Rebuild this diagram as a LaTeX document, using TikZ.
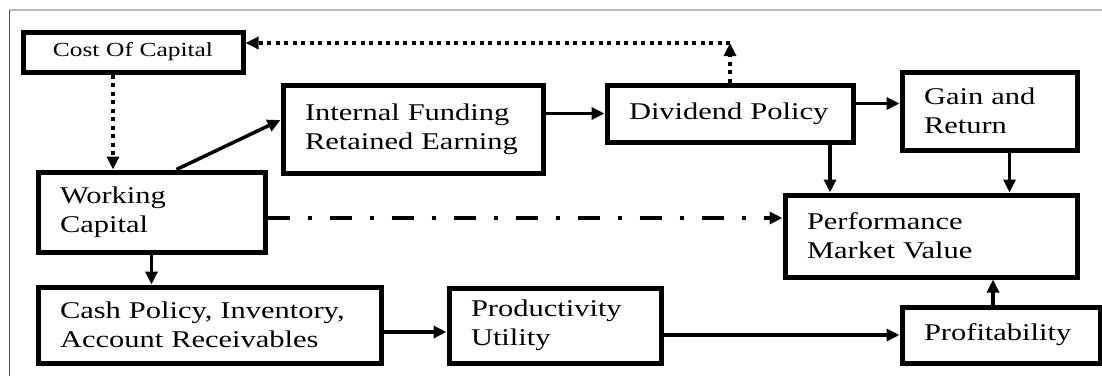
\documentclass[tikz,border=0pt]{standalone}
\usepackage{fontspec}
\setmainfont{Liberation Serif}[FakeStretch=1.27]
\usetikzlibrary{arrows.meta}
\begin{document}
\begin{tikzpicture}[x=1pt,y=-1pt,
  box/.style={draw, line width=5pt, inner xsep=22pt, inner ysep=0pt, align=left,
    font=\fontsize{24}{29}\selectfont},
  conn/.style={line width=3.5pt, -{Triangle[length=13pt,width=12pt]}},
  dots/.style={conn, line width=4pt, dash pattern=on 4pt off 4.5pt},
  dashdot/.style={conn, line width=4.5pt, dash pattern=on 22pt off 18pt on 4pt off 18pt},
  frame/.style={line width=2.5pt, gray!55}]
\useasboundingbox (0,0) rectangle (1102,376);
\draw[frame] (9,10) -- (1102,10);
\draw[line width=1pt, gray!70!black] (9,10) -- (9,376);

\node[box, minimum height=40pt, text width=176pt, align=center,
  font=\fontsize{20}{24}\selectfont] (coc) at (133,52) {Cost Of Capital};
\node[box, minimum height=88pt, text width=216pt] (if) at (413,129) {Internal Funding\\Retained Earning};
\node[box, minimum height=57pt, text width=202pt] (dp) at (730,113.5) {Dividend Policy};
\node[box, minimum height=78pt, text width=131pt] (gr) at (989.5,111) {Gain and\\Return};
\node[box, minimum height=80pt, text width=183pt] (wc) at (151.5,212) {Working\\Capital};
\node[box, minimum height=82pt, text width=248pt] (pmv) at (931,236) {Performance\\Market Value};
\node[box, minimum height=76pt, text width=299pt] (cash) at (209.5,325) {Cash Policy, Inventory,\\Account Receivables};
\node[box, minimum height=75pt, text width=168pt] (prod) at (555,325.5) {Productivity\\Utility};
\node[box, minimum height=56pt, text width=154pt] (prof) at (1001,335) {Profitability};

\coordinate (turn) at (730,43);

\draw[dots] ([xshift=-20pt]coc.south) -- ([xshift=-20pt]coc.south |- wc.north);
\draw[conn] ([xshift=25pt]wc.north) -- ([yshift=9pt]if.west);
\draw[conn] (dp.west -| if.east) -- (dp.west);
\draw[dots] (dp.north) -- (turn);
\draw[dots] (turn) -- (turn -| coc.east);
\draw[conn] ([yshift=10pt]dp.east) -- ([yshift=10pt]dp.east -| gr.west);
\draw[conn] ([xshift=100pt]dp.south) -- ([xshift=100pt]dp.south |- pmv.north);
\draw[conn] ([xshift=20pt]gr.south) -- ([xshift=20pt]gr.south |- pmv.north);
\draw[dashdot] ([yshift=-6pt]wc.east) -- ([yshift=-6pt]wc.east -| pmv.west);
\draw[conn] (wc.south) -- (wc.south |- cash.north);
\draw[conn] ([yshift=-7pt]cash.east) -- ([yshift=-7pt]cash.east -| prod.west);
\draw[conn] (prof.west -| prod.east) -- (prof.west);
\draw[conn] ([xshift=-8pt]prof.north) -- ([xshift=-8pt]prof.north |- pmv.south);
\end{tikzpicture}
\end{document}
